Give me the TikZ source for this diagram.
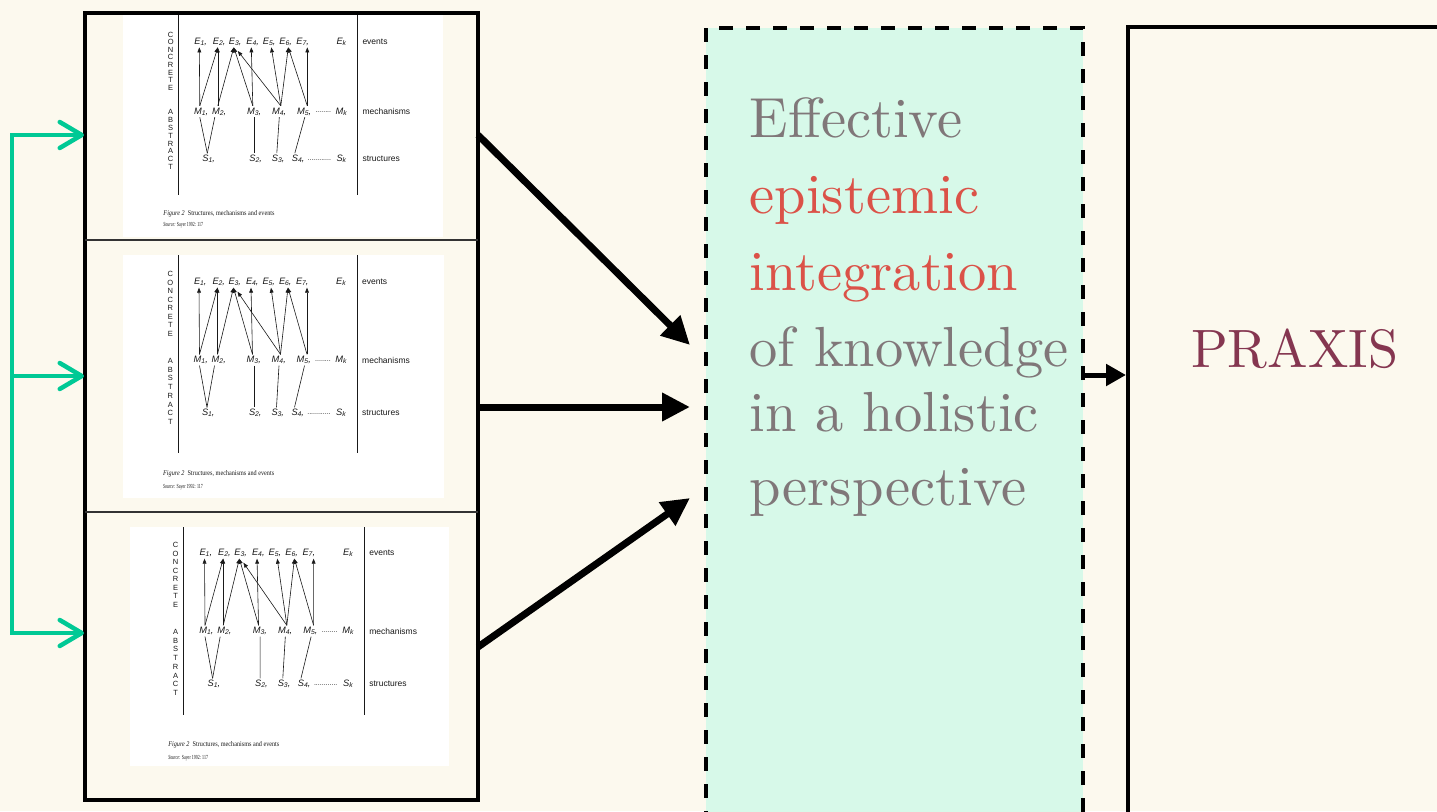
\documentclass[tikz,border=0pt]{standalone}
\usepackage{fontspec}
\usetikzlibrary{arrows.meta}
\newfontfamily\bigrm{lmroman10-regular}[Extension=.otf]
\newfontfamily\figsans{Liberation Sans}
\newfontfamily\figserif{Liberation Serif}
\definecolor{bg}{HTML}{FCF9EE}
\definecolor{mint}{HTML}{D7F9E9}
\definecolor{grn}{HTML}{00C995}
\definecolor{gtxt}{HTML}{807779}
\definecolor{rtxt}{HTML}{DB5248}
\definecolor{wine}{HTML}{853650}
\newcommand\lsub[1]{\raisebox{-1.3pt}{\fontsize{6.8}{6.8}\selectfont #1}}

\newcommand\sayerfig[2]{%
  \draw[figrule] (0,#1) -- (0,#2);
  \draw[figrule] (179,#1) -- (179,#2);
  \foreach \l [count=\i] in {C,O,N,C,R,E,T,E}
    {\node[vlet] (con\i) at (-7.6,{-8+(\i-1)*8.5}) {\l};}
  \foreach \l [count=\i] in {A,B,S,T,R,A,C,T}
    {\node[vlet] (abs\i) at (-7.6,{79+(\i-1)*8.7}) {\l};}
  \node[labsty] (E1) at (21,0) {E\lsub{1}\rlap{,}};
  \node[labsty] (E2) at (39.5,0) {E\lsub{2}\rlap{,}};
  \node[labsty] (E3) at (55.5,0) {E\lsub{3}\rlap{,}};
  \node[labsty] (E4) at (73,0) {E\lsub{4}\rlap{,}};
  \node[labsty] (E5) at (89.5,0) {E\lsub{5}\rlap{,}};
  \node[labsty] (E6) at (106,0) {E\lsub{6}\rlap{,}};
  \node[labsty] (E7) at (123,0) {E\lsub{7}\rlap{,}};
  \node[labsty] (Ek) at (163,0) {E\lsub{k}};
  \node[labsty] (M1) at (21.5,78) {M\lsub{1}\rlap{,}};
  \node[labsty] (M2) at (39.5,78) {M\lsub{2}\rlap{,}};
  \node[labsty] (M3) at (74.5,78) {M\lsub{3}\rlap{,}};
  \node[labsty] (M4) at (99.5,78) {M\lsub{4}\rlap{,}};
  \node[labsty] (M5) at (124.5,78) {M\lsub{5}\rlap{,}};
  \node[labsty] (Mk) at (163,78) {M\lsub{k}};
  \node[labsty] (S1) at (29,131) {S\lsub{1}\rlap{,}};
  \node[labsty] (S2) at (76,131) {S\lsub{2}\rlap{,}};
  \node[labsty] (S3) at (98.5,131) {S\lsub{3}\rlap{,}};
  \node[labsty] (S4) at (118.5,131) {S\lsub{4}\rlap{,}};
  \node[labsty] (Sk) at (163,131) {S\lsub{k}};
  \node[dotsty] (md) at (145,79) {........};
  \node[dotsty] (sd) at (141,132) {............};
  \node[sidesty] (ev) at (184,0) {events};
  \node[sidesty] (me) at (184,78) {mechanisms};
  \node[sidesty] (st) at (184,131) {structures};
  \node[capsty] (cp) at (-15,192) {\textit{Figure 2}\enspace Structures, mechanisms and events};
  \node[srcsty] (so) at (-15,205) {\textit{Source:} Sayer 1992: 117};
  \draw[farr] (M1.north) -- (E1.south);
  \draw[farr] (M1.north) -- (E2.south);
  \draw[farr] (M2.north) -- (E2.south);
  \draw[farr] (M2.north) -- (E3.south);
  \draw[farr] (M3.north) -- (E3.south);
  \draw[farr] (M3.north) -- (E4.south);
  \draw[farr] ([xshift=3pt]M4.north) -- ([xshift=4pt,yshift=-4pt]E3.south);
  \draw[farr] ([xshift=3pt]M4.north) -- ([xshift=3.5pt]E5.south);
  \draw[farr] ([xshift=3pt]M4.north) -- ([xshift=4pt]E6.south);
  \draw[farr] ([xshift=4.5pt]M5.north) -- ([xshift=4pt]E6.south);
  \draw[farr] ([xshift=4.5pt]M5.north) -- ([xshift=6pt]E7.south);
  \draw[fline] (M1.south) -- (S1.north);
  \draw[fline] ([xshift=-3pt]M2.south) -- (S1.north);
  \draw[fline] ([xshift=1.5pt]M3.south) -- (S2.north);
  \draw[fline] ([xshift=1.5pt]M4.south) -- (S3.north);
  \draw[fline] ([xshift=2pt]M5.south) -- ([xshift=-2pt]S4.north);
}

\begin{document}
\begin{tikzpicture}[x=1pt,y=-1pt,
  figrule/.style={line width=1pt, draw=black!90},
  vlet/.style={font=\figsans\fontsize{7.5}{7.5}\selectfont, inner sep=0pt, text=black!90},
  labsty/.style={font=\figsans\itshape\fontsize{9.3}{9.3}\selectfont, inner xsep=0.3pt, inner ysep=1.6pt, text=black!90},
  dotsty/.style={font=\figsans\fontsize{7}{7}\selectfont, inner sep=0pt, text=black!90},
  sidesty/.style={font=\figsans\fontsize{8.5}{8.5}\selectfont, anchor=west, inner sep=0pt, text=black!90},
  capsty/.style={font=\figserif\fontsize{7.2}{7.2}\selectfont, anchor=west, inner sep=0pt, xscale=0.86, text=black!90},
  srcsty/.style={font=\figserif\fontsize{6.2}{6.2}\selectfont, anchor=west, inner sep=0pt, xscale=0.64, text=black!90},
  farr/.style={line width=0.6pt, draw=black!90, -{Triangle[length=5pt,width=3.8pt]}},
  fline/.style={line width=0.6pt, draw=black!90},
  panel/.style={fill=white, draw=none, inner sep=0pt},
  bigframe/.style={draw=black, line width=4.5pt, inner sep=0pt},
  divider/.style={draw=black!80, line width=1.8pt},
  gline/.style={draw=grn, line width=4.5pt},
  garrow/.style={gline, -{Straight Barb[length=22pt,width=26pt,round]}},
  bigarrow/.style={line width=7pt, -{Triangle[length=28pt,width=27pt]}},
  sarrow/.style={line width=5pt, -{Triangle[length=20pt,width=21pt]}},
  integ/.style={draw=black, fill=mint, line width=4pt, dash pattern=on 14pt off 13pt, inner sep=0pt},
  praxbox/.style={draw=black, line width=4pt, inner sep=0pt},
  maintxt/.style={font=\bigrm\fontsize{56.5}{60}\selectfont, anchor=base west, inner sep=0pt},
]
\clip (0,0) rectangle (1437,811);
\fill[bg] (0,0) rectangle (1437,811);

% figure panels
\node[panel, minimum width=320pt, minimum height=224pt] (pan1) at (283,125) {};
\node[panel, minimum width=321pt, minimum height=243pt] (pan2) at (283.5,376.5) {};
\node[panel, minimum width=319pt, minimum height=239pt] (pan3) at (289.5,646.5) {};

\begin{scope}[name prefix=fa-, shift={(178.3,41.7)}, yscale=0.895]
  \sayerfig{-32}{171}
\end{scope}
\begin{scope}[name prefix=fb-, shift={(178,282)}]
  \sayerfig{-27}{171}
\end{scope}
\begin{scope}[name prefix=fc-, shift={(183.3,553)}, xscale=1.01]
  \sayerfig{-26}{162}
\end{scope}

% left frame
\node[bigframe, minimum width=393pt, minimum height=787pt] (leftbox) at (281.5,406.5) {};
\draw[divider] (85,240) -- (478,240);
\draw[divider] (85,512) -- (478,512);

% green feedback arrows
\coordinate (gtop) at (12,135);
\coordinate (gmid) at (12,376);
\coordinate (gbot) at (12,633);
\coordinate (gt1) at (84,135);
\coordinate (gt2) at (84,376);
\coordinate (gt3) at (84,633);
\draw[garrow] (gbot) -- (gtop) -- (gt1);
\draw[garrow] (gtop) -- (gbot) -- (gt3);
\draw[garrow] (gmid) -- (gt2);

% middle dashed box
\node[integ, minimum width=377pt, minimum height=812pt] (integ) at (894.5,434) {};
\node[maintxt, text=gtxt] (l1) at (749.5,137) {Effective};
\node[maintxt, text=rtxt] (l2) at (749.5,213.5) {epistemic};
\node[maintxt, text=rtxt] (l3) at (749.5,290) {integration};
\node[maintxt, text=gtxt] (l4) at (749.5,366.5) {of knowledge};
\node[maintxt, text=gtxt] (l5) at (749.5,431) {in a holistic};
\node[maintxt, text=gtxt] (l6) at (749.5,505) {perspective};

% right box
\node[praxbox, minimum width=342pt, minimum height=813pt] (praxis) at (1299,433.5) {};
\node[font=\bigrm\fontsize{54}{60}\selectfont, text=wine, anchor=base west, inner sep=0pt] (ptxt) at (1191,367) {PRAXIS};

% black arrows
\coordinate (b1s) at (478,135);
\coordinate (b2s) at (478,407);
\coordinate (b3s) at (478,647);
\coordinate (b1t) at (690,345);
\coordinate (b2t) at (690,407);
\coordinate (b3t) at (690,498);
\draw[bigarrow] (b1s) -- (b1t);
\draw[bigarrow] (b2s) -- (b2t);
\draw[bigarrow] (b3s) -- (b3t);

\coordinate (sa) at (1083,375);
\draw[sarrow] (sa) -- (praxis.west |- sa);
\end{tikzpicture}
\end{document}
